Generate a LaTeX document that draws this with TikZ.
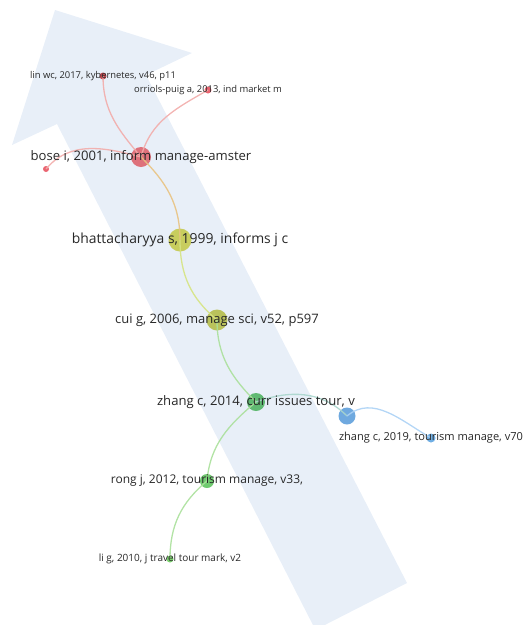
\documentclass[tikz,border=0pt]{standalone}
\usepackage{fontspec}
\setmainfont{Open Sans}
\definecolor{arrowbg}{RGB}{232,239,248}
\definecolor{txt}{RGB}{40,40,40}
\definecolor{redA}{RGB}{222,100,110}
\definecolor{redB}{RGB}{232,84,98}
\definecolor{redC}{RGB}{190,55,65}
\definecolor{yelA}{RGB}{197,202,78}
\definecolor{yelB}{RGB}{182,190,76}
\definecolor{grnA}{RGB}{82,180,100}
\definecolor{grnB}{RGB}{95,196,95}
\definecolor{grnC}{RGB}{110,205,95}
\definecolor{bluA}{RGB}{95,160,220}
\definecolor{bluB}{RGB}{95,165,225}
\definecolor{ePink}{RGB}{242,172,170}
\definecolor{eOrange}{RGB}{232,195,130}
\definecolor{eYel}{RGB}{214,228,130}
\definecolor{eGrn}{RGB}{170,224,155}
\definecolor{eTeal}{RGB}{170,214,205}
\definecolor{eBlue}{RGB}{172,210,245}
\begin{document}
\begin{tikzpicture}[x=1pt,y=-1pt,
  dot/.style={circle, inner sep=0pt, draw=none, fill opacity=0.9},
  edge/.style={line width=1.3pt, opacity=0.9},
  lab/.style={text=txt, inner sep=0pt, font=\fontsize{#1}{#1}\selectfont}]
\useasboundingbox (0,0) rectangle (523,625);
\clip (0,0) rectangle (523,625);
% big background arrow
\fill[arrowbg] (55,10) -- (192,53) -- (146,75) -- (407,583) -- (315.4,629.8)
  -- (57,124) -- (12,145) -- cycle;
% nodes
\node[dot, minimum size=7pt, fill=redC] (lin) at (103,76) {};
\node[dot, minimum size=7pt, fill=redB] (orr) at (208,90) {};
\node[dot, minimum size=20pt, fill=redA] (bose) at (141,157) {};
\node[dot, minimum size=6pt, fill=redB] (sr) at (46,169) {};
\node[dot, minimum size=23pt, fill=yelA] (bha) at (180,240) {};
\node[dot, minimum size=21pt, fill=yelB] (cui) at (217,320) {};
\node[dot, minimum size=18pt, fill=grnA] (zh14) at (256,402) {};
\node[dot, minimum size=17pt, fill=bluA] (blu) at (347,416) {};
\node[dot, minimum size=9pt, fill=bluB] (zh19) at (431,438) {};
\node[dot, minimum size=14pt, fill=grnB] (rong) at (207,481) {};
\node[dot, minimum size=7pt, fill=grnC] (lig) at (170,559) {};
% edges
\draw[edge, ePink] (lin.center) to[out=-90,in=130] (bose.center);
\draw[edge, ePink] (bose.center) to[out=75,in=-150] (orr.center);
\draw[edge, ePink] (sr.center) to[out=50,in=165] (bose.center);
\draw[edge, eOrange] (bose.center) to[out=-45,in=90] (bha.center);
\draw[edge, eYel] (bha.center) to[out=-90,in=140] (cui.center);
\draw[edge, eGrn] (cui.center) to[out=-90,in=135] (zh14.center);
\draw[edge, eTeal] (zh14.center) to[out=20,in=135] (blu.center);
\draw[edge, eBlue] (blu.center) to[out=40,in=150] (zh19.center);
\draw[edge, eGrn] (zh14.center) to[out=-140,in=85] (rong.center);
\draw[edge, eGrn] (rong.center) to[out=-140,in=90] (lig.center);
% labels
\node[lab=9.4] (llin) at (lin) {lin wc, 2017, kybernetes, v46, p11};
\node[lab=9.4] (lorr) at (orr) {orriols-puig a, 2013, ind market m};
\node[lab=13.1] (lbose) at (bose) {bose i, 2001, inform manage-amster};
\node[lab=13.9] (lbha) at (bha) {bhattacharyya s, 1999, informs j c};
\node[lab=13] (lcui) at (cui) {cui g, 2006, manage sci, v52, p597};
\node[lab=13.1] (lzh14) at (zh14) {zhang c, 2014, curr issues tour, v};
\node[lab=11.05] (lzh19) at (zh19) {zhang c, 2019, tourism manage, v70};
\node[lab=12] (lrong) at (rong) {rong j, 2012, tourism manage, v33,};
\node[lab=10] (llig) at (lig) {li g, 2010, j travel tour mark, v2};
\end{tikzpicture}
\end{document}
